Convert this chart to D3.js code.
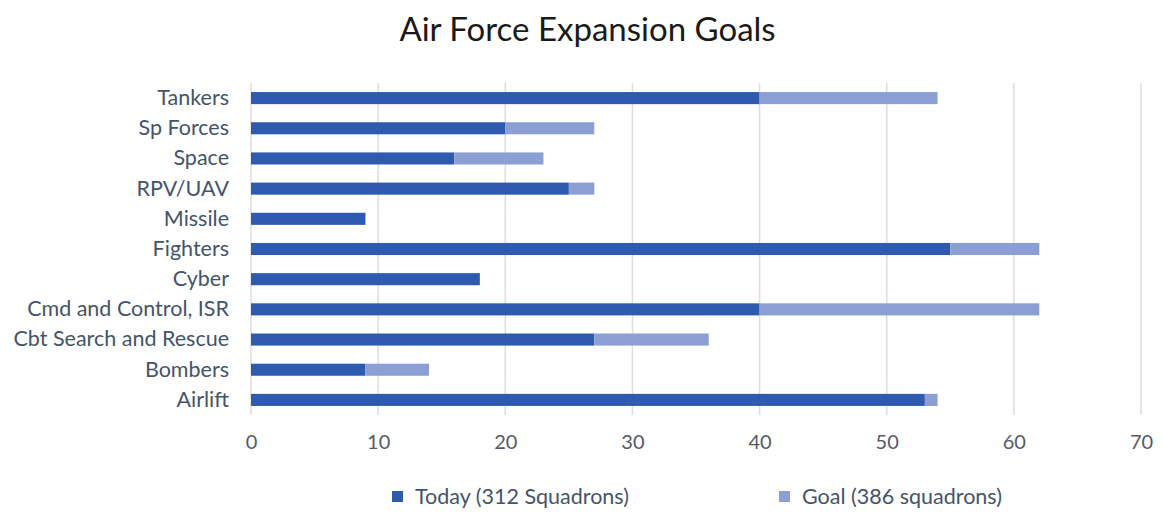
<!DOCTYPE html>
<html lang="en">
<head>
<meta charset="UTF-8">
<title>Air Force Expansion Goals</title>
<script src="https://d3js.org/d3.v7.min.js"></script>
<style>
    body { margin: 0; padding: 0; background: #ffffff; font-family: Lato, "Noto Sans", sans-serif; }
    svg { display: block; }
</style>
</head>
<body>
<svg id="chart"></svg>
<script>
    const categories = ["Tankers", "Sp Forces", "Space", "RPV/UAV", "Missile", "Fighters", "Cyber",
        "Cmd and Control, ISR", "Cbt Search and Rescue", "Bombers", "Airlift"];
    const today = [40, 20, 16, 25, 9, 55, 18, 40, 27, 9, 53];
    const goal = [54, 27, 23, 27, 9, 62, 18, 62, 36, 14, 54];
    const xTicks = [0, 10, 20, 30, 40, 50, 60, 70];
    const seriesNames = ["Today (312 Squadrons)", "Goal (386 squadrons)"];

    const width = 1163, height = 528;
    const margin = { top: 83, right: 22, bottom: 113, left: 251 };
    const colors = ["#2f5bae", "#8c9fd4"];

    const svg = d3.select("#chart").attr("width", width).attr("height", height);

    // goal is the total; the light segment is what is still to be added
    const rows = categories.map((c, i) => ({ cat: c, today: today[i], extra: goal[i] - today[i] }));
    const stacked = d3.stack().keys(["today", "extra"])(rows);

    const x = d3.scaleLinear().domain([0, 70]).range([margin.left, width - margin.right]);
    const y = d3.scaleBand().domain(categories).range([margin.top, height - margin.bottom]).paddingInner(0.6).paddingOuter(0.3);

    svg.append("text")
        .attr("x", width / 2 + 6).attr("y", 41)
        .attr("text-anchor", "middle")
        .style("font-size", "33px").style("fill", "#1a1a1a")
        .text("Air Force Expansion Goals");

    // gridlines
    svg.append("g").selectAll("line").data(xTicks).join("line")
        .attr("x1", d => x(d)).attr("x2", d => x(d))
        .attr("y1", margin.top).attr("y2", height - margin.bottom)
        .attr("stroke", "#dcdde3").attr("stroke-width", 1.5);

    svg.append("g").selectAll("g").data(stacked).join("g")
        .attr("fill", (d, i) => colors[i])
        .selectAll("rect").data(d => d).join("rect")
        .attr("x", d => x(d[0]))
        .attr("width", d => x(d[1]) - x(d[0]))
        .attr("y", d => y(d.data.cat))
        .attr("height", y.bandwidth());

    const xAxis = svg.append("g")
        .attr("transform", `translate(0,${height - margin.bottom})`)
        .call(d3.axisBottom(x).tickValues(xTicks).tickSize(0).tickPadding(20));
    xAxis.select(".domain").remove();
    xAxis.selectAll("text").style("font-size", "20px").style("fill", "#555b66").style("font-family", "Lato, 'Noto Sans', sans-serif");

    const yAxis = svg.append("g")
        .attr("transform", `translate(${margin.left},0)`)
        .call(d3.axisLeft(y).tickSize(0).tickPadding(22));
    yAxis.select(".domain").remove();
    yAxis.selectAll("text").style("font-size", "21.5px").style("fill", "#44546a").style("font-family", "Lato, 'Noto Sans', sans-serif");

    const legendX = [392, 779];
    const legend = svg.append("g").selectAll("g").data(seriesNames).join("g")
        .attr("transform", (d, i) => `translate(${legendX[i]},496)`);
    legend.append("rect").attr("x", 0).attr("y", -5).attr("width", 11).attr("height", 11)
        .attr("fill", (d, i) => colors[i]);
    legend.append("text").attr("x", 23).attr("y", 0).attr("dy", "0.35em")
        .style("font-size", "21.5px").style("fill", "#44546a")
        .text(d => d);
</script>
</body>
</html>
